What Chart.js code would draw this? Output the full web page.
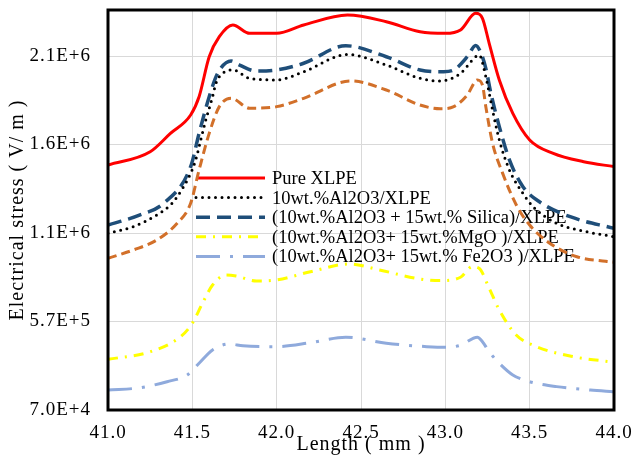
<!DOCTYPE html>
<html>
<head>
<meta charset="utf-8">
<script src="https://cdn.jsdelivr.net/npm/chart.js@4"></script>
<style>
  html, body { margin: 0; padding: 0; background: #fff; }
  #wrap { width: 634px; height: 455px; }
</style>
</head>
<body>
<div id="wrap"><canvas id="stressChart"></canvas></div>
<script>
// axis ticks
const yTickValues = [7.0e4, 5.7e5, 1.07e6, 1.57e6, 2.07e6];
const yTickLabels = ["7.0E+4", "5.7E+5", "1.1E+6", "1.6E+6", "2.1E+6"];

// Pure XLPE
const pureX = [41.0, 41.25, 41.37, 41.49, 41.54, 41.6, 41.66, 41.74, 41.84, 42.0, 42.16, 42.42, 42.65, 42.85, 43.0, 43.09, 43.18, 43.22, 43.26, 43.32, 43.4, 43.5, 43.64, 43.82, 44.0];
const pureY = [1.454e6, 1.529e6, 1.633e6, 1.737e6, 1.84e6, 2.066e6, 2.179e6, 2.245e6, 2.198e6, 2.198e6, 2.245e6, 2.302e6, 2.264e6, 2.207e6, 2.198e6, 2.217e6, 2.311e6, 2.283e6, 2.142e6, 1.935e6, 1.746e6, 1.596e6, 1.52e6, 1.473e6, 1.445e6];

// 10wt.% Al2O3
const aluX = [41.0, 41.15, 41.29, 41.37, 41.41, 41.49, 41.52, 41.55, 41.58, 41.62, 41.64, 41.68, 41.74, 41.84, 42.0, 42.16, 42.42, 42.65, 42.85, 42.97, 43.09, 43.17, 43.2, 43.24, 43.28, 43.32, 43.38, 43.46, 43.52, 43.66, 43.84, 44.0];
const aluY = [1.068e6, 1.106e6, 1.172e6, 1.228e6, 1.275e6, 1.407e6, 1.483e6, 1.596e6, 1.709e6, 1.84e6, 1.916e6, 1.972e6, 1.991e6, 1.944e6, 1.935e6, 1.981e6, 2.079e6, 2.019e6, 1.944e6, 1.929e6, 1.972e6, 2.057e6, 2.076e6, 1.953e6, 1.765e6, 1.596e6, 1.426e6, 1.294e6, 1.219e6, 1.125e6, 1.077e6, 1.049e6];

// Al2O3 + Silica
const silicaX = [41.0, 41.19, 41.33, 41.49, 41.54, 41.6, 41.65, 41.73, 41.78, 41.88, 42.0, 42.16, 42.41, 42.65, 42.85, 42.99, 43.05, 43.13, 43.18, 43.21, 43.24, 43.27, 43.32, 43.38, 43.46, 43.56, 43.74, 44.0];
const silicaY = [1.115e6, 1.172e6, 1.238e6, 1.445e6, 1.633e6, 1.84e6, 1.972e6, 2.042e6, 2.019e6, 1.985e6, 1.991e6, 2.029e6, 2.128e6, 2.066e6, 1.991e6, 1.981e6, 1.991e6, 2.066e6, 2.13e6, 2.09e6, 2.0e6, 1.86e6, 1.671e6, 1.483e6, 1.332e6, 1.245e6, 1.162e6, 1.096e6];

// orange curve (no legend entry)
const orangeX = [41.0, 41.15, 41.29, 41.41, 41.49, 41.54, 41.6, 41.66, 41.73, 41.84, 42.0, 42.16, 42.44, 42.65, 42.85, 42.97, 43.05, 43.13, 43.19, 43.22, 43.24, 43.28, 43.34, 43.42, 43.5, 43.61, 43.78, 43.95, 44.0];
const orangeY = [0.927e6, 0.974e6, 1.031e6, 1.125e6, 1.238e6, 1.426e6, 1.633e6, 1.784e6, 1.831e6, 1.775e6, 1.784e6, 1.831e6, 1.929e6, 1.878e6, 1.793e6, 1.772e6, 1.784e6, 1.85e6, 1.935e6, 1.906e6, 1.784e6, 1.577e6, 1.407e6, 1.23e6, 1.115e6, 1.018e6, 0.936e6, 0.91e6, 0.905e6];

// Al2O3 + MgO
const mgoX = [41.0, 41.25, 41.43, 41.5, 41.56, 41.62, 41.7, 41.76, 41.88, 42.0, 42.2, 42.43, 42.61, 42.85, 42.97, 43.09, 43.16, 43.2, 43.26, 43.32, 43.42, 43.54, 43.76, 44.0];
const mgoY = [0.356e6, 0.399e6, 0.484e6, 0.56e6, 0.673e6, 0.776e6, 0.833e6, 0.827e6, 0.799e6, 0.805e6, 0.851e6, 0.895e6, 0.861e6, 0.81e6, 0.801e6, 0.82e6, 0.88e6, 0.871e6, 0.758e6, 0.635e6, 0.494e6, 0.428e6, 0.371e6, 0.34e6];

// Al2O3 + Fe2O3
const feX = [41.0, 41.19, 41.35, 41.47, 41.54, 41.62, 41.72, 41.8, 42.0, 42.2, 42.41, 42.65, 42.89, 43.0, 43.09, 43.19, 43.22, 43.26, 43.32, 43.4, 43.5, 43.66, 43.86, 44.0];
const feY = [0.183e6, 0.196e6, 0.23e6, 0.268e6, 0.334e6, 0.409e6, 0.443e6, 0.433e6, 0.428e6, 0.45e6, 0.481e6, 0.447e6, 0.428e6, 0.424e6, 0.436e6, 0.481e6, 0.456e6, 0.399e6, 0.334e6, 0.268e6, 0.23e6, 0.202e6, 0.183e6, 0.173e6];

const serif = "'Liberation Serif', 'Times New Roman', serif";

function pts(xs, ys) {
    return xs.map((x, i) => ({ x: x, y: ys[i] }));
}

function series(label, xs, ys, color, dash, width, extra) {
    return Object.assign({
        label: label,
        data: pts(xs, ys),
        borderColor: color,
        backgroundColor: color,
        borderWidth: width,
        borderDash: dash,
        pointRadius: 0,
        fill: false,
        cubicInterpolationMode: "monotone"
    }, extra || {});
}

// spaced-out tick text like the original
const spacingPlugin = {
    id: "spacing",
    beforeDraw(chart) { chart.ctx.letterSpacing = "1px"; },
    beforeDatasetsDraw(chart) { chart.ctx.letterSpacing = "0px"; }
};

// legend sits inside the plot, curves run over it
const insideLegend = {
    id: "insideLegend",
    beforeDatasetsDraw(chart) {
        const ctx = chart.ctx;
        const rowH = 19.6;
        let y = 178;
        ctx.save();
        ctx.font = "18.5px " + serif;
        ctx.textBaseline = "alphabetic";
        ctx.fillStyle = "#000";
        chart.data.datasets.forEach(ds => {
            if (ds.noLegend) return;
            ctx.beginPath();
            ctx.strokeStyle = ds.borderColor;
            ctx.lineWidth = ds.borderWidth;
            ctx.lineCap = ds.borderCapStyle || "butt";
            ctx.setLineDash(ds.borderDash || []);
            ctx.moveTo(196, y);
            ctx.lineTo(265, y);
            ctx.stroke();
            ctx.fillText(ds.label, 272, y + 6);
            y += rowH;
        });
        ctx.restore();
    },
    afterDatasetsDraw(chart) {
        const a = chart.chartArea;
        const ctx = chart.ctx;
        ctx.save();
        ctx.strokeStyle = "#000";
        ctx.lineWidth = 3;
        ctx.setLineDash([]);
        ctx.strokeRect(a.left, a.top, a.right - a.left, a.bottom - a.top);
        ctx.restore();
    }
};

new Chart(document.getElementById("stressChart"), {
    type: "line",
    data: {
        datasets: [
            series("Pure XLPE", pureX, pureY, "#FF0000", [], 3),
            series("10wt.%Al2O3/XLPE", aluX, aluY, "#000000", [0, 6.5], 3, { borderCapStyle: "round" }),
            series("(10wt.%Al2O3 + 15wt.% Silica)/XLPE", silicaX, silicaY, "#1F4E79", [14, 7], 3.5),
            series("(10wt.%Al2O3+ 15wt.%MgO )/XLPE", mgoX, mgoY, "#FFFF00", [10, 7, 2, 7], 3),
            series("(10wt.%Al2O3+ 15wt.% Fe2O3 )/XLPE", feX, feY, "#8FAADC", [24, 10, 3, 10], 3),
            series("unlabelled", orangeX, orangeY, "#D2702A", [9, 5], 3, { noLegend: true })
        ]
    },
    options: {
        responsive: true,
        maintainAspectRatio: false,
        devicePixelRatio: 1,
        animation: false,
        layout: { padding: { left: 0, right: 20, top: 10, bottom: 0 } },
        plugins: {
            legend: { display: false },
            tooltip: { enabled: false }
        },
        scales: {
            x: {
                type: "linear",
                min: 41,
                max: 44,
                ticks: {
                    stepSize: 0.5,
                    autoSkip: false,
                    maxRotation: 0,
                    color: "#000",
                    padding: 12,
                    font: { family: serif, size: 19 },
                    callback: v => v.toFixed(1)
                },
                grid: { color: "#d9d9d9", lineWidth: 1, drawTicks: false },
                border: { display: false },
                title: {
                    display: true,
                    text: "Length ( mm )",
                    color: "#000",
                    font: { family: serif, size: 20, lineHeight: 1 },
                    padding: { top: 0, bottom: 0 }
                },
                afterFit: s => {
                    s.height = 45;
                    s.paddingLeft = 0;
                    s.paddingRight = 0;
                }
            },
            y: {
                min: 7e4,
                max: 2.33e6,
                afterBuildTicks: s => { s.ticks = yTickValues.map(v => ({ value: v })); },
                ticks: {
                    color: "#000",
                    padding: 17,
                    font: { family: serif, size: 19 },
                    callback: (v, i) => yTickLabels[i]
                },
                grid: { color: "#d9d9d9", lineWidth: 1, drawTicks: false },
                border: { display: false },
                title: {
                    display: true,
                    text: "Electrical stress ( V/ m )",
                    color: "#000",
                    font: { family: serif, size: 20, lineHeight: 1 },
                    padding: { top: 8, bottom: 0 }
                },
                afterFit: s => {
                    s.width = 108;
                    s.paddingTop = 0;
                    s.paddingBottom = 0;
                }
            }
        }
    },
    plugins: [spacingPlugin, insideLegend]
});
</script>
</body>
</html>
